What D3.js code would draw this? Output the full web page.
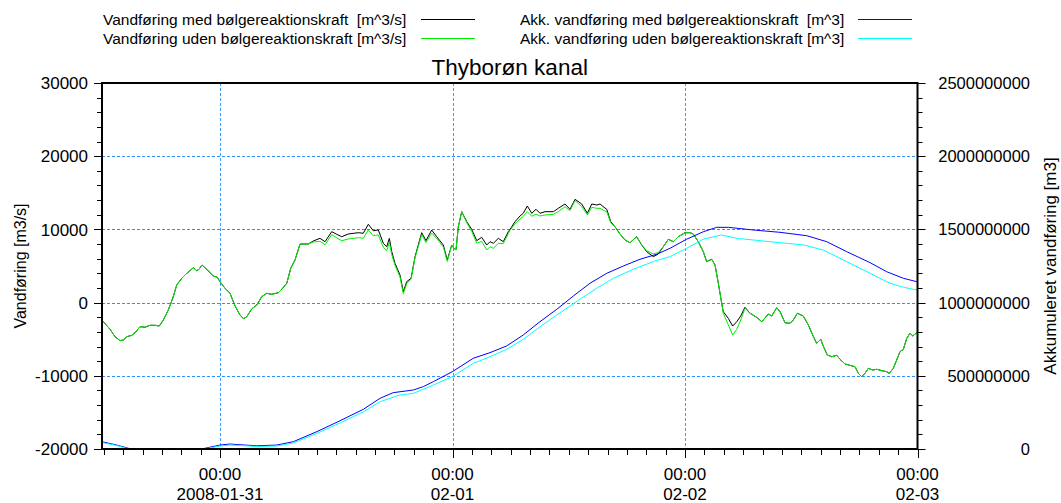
<!DOCTYPE html>
<html><head><meta charset="utf-8">
<script src="https://cdn.jsdelivr.net/npm/d3@7"></script>
<style>
html,body{margin:0;padding:0;background:#fff;}
svg{display:block;font-family:"Liberation Sans",Arial,sans-serif;}
</style></head>
<body>
<svg id="chart" width="1061" height="503"></svg>
<script>
// ---------------- DATA ----------------
const title = "Thyborøn kanal";
const seriesNames = [
  "Vandføring med bølgereaktionskraft  [m^3/s]",
  "Vandføring uden bølgereaktionskraft [m^3/s]",
  "Akk. vandføring med bølgereaktionskraft  [m^3]",
  "Akk. vandføring uden bølgereaktionskraft [m^3]"
];
const seriesColors = ["#000000", "#00f000", "#0000ff", "#00ffff"];
const leftAxisTitle = "Vandføring [m3/s]";
const rightAxisTitle = "Akkumuleret vandføring [m3]";
const xTickTop = ["00:00", "00:00", "00:00", "00:00"];
const xTickBottom = ["2008-01-31", "02-01", "02-02", "02-03"];
const xTickDays = ["2008-01-31", "2008-02-01", "2008-02-02", "2008-02-03"];
const timeStart = "2008-01-30T11:49:00";
const timeEnd = "2008-02-03T00:00:00";
const timeRef = "2008-01-31T00:00:00"; // hours below are relative to this

// flow series (hours relative to 2008-01-31 00:00)
const flowHours = [-12.2,-11.35,-10.84,-10.32,-9.98,-9.63,-9.11,-8.77,-8.26,-7.74,-7.23,-6.71,-6.27,-5.85,-5.34,-4.88,-4.47,-3.95,-3.51,-3.10,
 -2.76,-2.41,-2.17,-1.86,-1.37,-0.69,-0.28,0,0.52,1.03,1.55,2.06,2.41,2.76,3.27,3.79,4.31,4.82,5.34,6.02,
 6.37,6.89,7.30,7.74,8.26,9.11,9.63,10.32,10.84,11.53,12.05,12.56,13.24,14.28,14.79,15.31,15.82,16.34,16.86,17.21,
 17.48,17.73,18.06,18.58,18.92,19.27,19.72,20.13,20.82,21.26,21.85,22.37,23.05,23.46,23.92,24.15,24.36,24.60,24.95,25.47,
 25.98,26.50,27.01,27.53,27.87,28.21,28.73,29.24,29.76,29.94,30.45,30.97,31.31,31.72,32.18,32.62,33.03,33.55,34.41,34.92,
 35.61,36.13,36.65,37.34,37.92,38.37,38.89,39.23,39.64,39.92,40.33,40.77,41.29,41.81,42.32,43.01,43.53,44.05,44.73,45.24,
 45.76,46.28,46.79,47.31,48.00,48.52,48.86,49.37,49.89,50.24,50.75,51.10,51.44,51.79,51.95,52.47,52.92,53.34,53.75,54.19,
 54.71,55.40,55.92,56.60,56.95,57.47,57.81,58.32,58.84,59.18,59.59,60.21,60.73,61.18,61.59,62.01,62.27,62.69,63.14,63.66,
 64.00,64.52,65.03,65.55,65.89,66.24,66.58,66.92,67.38,67.79,68.31,68.82,69.09,69.50,69.85,70.19,70.54,70.89,71.23,71.51,
 71.92,72.0];
const flowMed = [-2380,-3650,-4660,-5200,-5110,-4660,-4470,-4110,-3290,-3370,-3100,-3100,-3200,-2380,-1010,590,2400,3320,3910,4360,
 4770,4360,4550,5140,4550,3630,3460,2860,1950,1270,-460,-1690,-2200,-1930,-870,-330,810,1270,1130,1350,
 1820,2640,4690,5820,8000,8000,8420,8780,8320,9690,9330,9000,9370,9550,9470,10700,9820,9920,8100,7640,
 8780,6950,5370,3770,1490,2860,3320,6270,9550,8460,9920,9000,7870,5820,7870,7420,7190,10370,12420,11050,
 10010,8460,8920,7870,8320,8100,8780,8320,9690,10010,11050,11830,12200,13200,12200,12750,12200,12420,12420,12880,
 13470,12750,14110,13470,12200,13470,13330,13470,13020,12750,11050,10370,9370,8550,8180,9000,7870,6950,6270,6640,
 7640,8650,8320,9000,9550,9550,9370,8320,6950,5590,5920,5140,2640,-100,-1240,-2150,-3200,-2610,-1830,-640,
 -1460,-2010,-2610,-1560,-1830,-700,-1240,-2750,-2830,-2380,-1460,-1830,-3060,-4430,-5560,-5010,-5930,-7160,-7390,-7200,
 -7750,-8390,-8570,-8760,-9660,-10120,-9660,-8980,-9210,-9110,-9300,-9440,-9660,-8980,-7840,-6710,-6380,-4880,-4190,-4560,
 -4110,-4050];
const flowUden = [-2380,-3650,-4660,-5200,-5110,-4660,-4470,-4110,-3290,-3370,-3100,-3100,-3200,-2380,-1010,590,2400,3320,3910,4360,
 4770,4360,4550,5140,4550,3630,3460,2860,1950,1270,-460,-1690,-2200,-1930,-870,-330,810,1270,1130,1350,
 1820,2640,4690,5820,8000,8000,8280,8370,7910,9280,8850,8450,8690,8870,8790,9920,9140,9240,7550,7090,
 8230,6540,5100,3500,1220,2590,3180,6130,9280,8190,9510,8730,7600,5620,7870,7420,7190,10370,12420,10910,
 9740,8120,8370,7190,7640,7420,8100,8050,9420,9870,10780,11420,11790,12420,11790,12070,11830,11970,12050,12430,
 13100,12570,13930,13100,11970,13020,12880,12880,12570,12430,10910,10370,9370,8550,8180,9000,7870,7090,6640,6840,
 7640,8650,8320,9000,9550,9550,9370,8320,6950,5590,5920,5140,2640,-100,-1470,-3050,-4430,-3660,-2380,-780,
 -1460,-2010,-2610,-1560,-1830,-700,-1240,-2750,-2830,-2380,-1460,-1830,-3060,-4430,-5560,-5010,-5930,-7160,-7390,-7200,
 -7750,-8390,-8570,-8760,-9660,-10120,-9660,-8980,-9210,-9110,-9300,-9440,-9660,-8980,-7840,-6710,-6380,-4880,-4190,-4560,
 -4110,-4050];

// accumulated series (m3)
const accHoursMed = [-12.2,-10.66,-9.47,-7.0,-4.5,-3.0,-1.55,0,1.03,2.06,3.79,5.85,7.57,9.98,12.39,14.79,16.52,17.55,17.89,19.96,
 20.99,22.02,23.98,26.15,27.87,29.59,31.31,33.03,34.76,36.47,38.19,39.92,41.63,43.35,45.08,46.45,48.17,49.89,51.27,52.47,
 55.05,57.81,60.56,62.63,64.69,67.10,68.82,70.54,71.92,72.0];
const accMed = [50e6,27e6,5e6,-25e6,-35e6,-20e6,5e6,27e6,34e6,29e6,22e6,27e6,50e6,118e6,193e6,271e6,346e6,376e6,385e6,403e6,
 426e6,460e6,528e6,620e6,658e6,704e6,779e6,870e6,954e6,1045e6,1132e6,1200e6,1250e6,1296e6,1330e6,1371e6,1433e6,1484e6,1514e6,1514e6,
 1496e6,1480e6,1457e6,1416e6,1348e6,1273e6,1211e6,1166e6,1143e6,1140e6];
const accHoursUden = [-12.2,-10.66,-9.47,-7.0,-4.5,-3.0,-1.55,0,1.03,2.06,3.79,5.85,7.57,9.98,12.39,14.79,16.52,18.58,19.96,22.02,
 23.98,26.15,27.87,29.59,31.31,33.03,34.76,37.16,38.89,40.60,42.67,44.73,46.45,48.17,49.89,51.79,53.34,56.77,60.21,62.27,
 64.69,67.10,69.16,70.54,71.92,72.0];
const accUden = [44e6,24e6,1e6,-28e6,-38e6,-23e6,1e6,20e6,27e6,24e6,17e6,20e6,41e6,106e6,178e6,253e6,323e6,369e6,380e6,437e6,
 494e6,585e6,630e6,681e6,749e6,835e6,915e6,1023e6,1098e6,1166e6,1228e6,1280e6,1314e6,1371e6,1433e6,1462e6,1439e6,1416e6,1394e6,1359e6,
 1280e6,1200e6,1132e6,1105e6,1086e6,1083e6];

const leftDomain = [-20000, 30000];
const leftMinorStep = 2000, leftMajorStep = 10000;
const rightDomain = [0, 2500000000];
const rightMinorStep = 100000000, rightMajorStep = 500000000;

// ---------------- CHART ----------------
const svg = d3.select("#chart");
const L = 102, R = 917.5, T = 83, B = 449;
const ref = new Date(timeRef).getTime();
const toDate = h => new Date(ref + h * 3600e3);

const x = d3.scaleTime().domain([new Date(timeStart), new Date(timeEnd)]).range([L, R]);
const yL = d3.scaleLinear().domain(leftDomain).range([B, T]);
const yR = d3.scaleLinear().domain(rightDomain).range([B, T]);

svg.append("defs").append("clipPath").attr("id", "clip")
  .append("rect").attr("x", L).attr("y", T).attr("width", R - L).attr("height", B - T);

// grid
const grid = svg.append("g");
const gridH = d3.range(leftDomain[0] + leftMajorStep, leftDomain[1], leftMajorStep);
grid.selectAll("line.h").data(gridH).join("line")
  .attr("x1", L).attr("x2", R)
  .attr("y1", d => Math.round(yL(d)) + 0.5).attr("y2", d => Math.round(yL(d)) + 0.5)
  .attr("stroke", "#2f8fff").attr("stroke-width", 1).attr("stroke-dasharray", "3,2");
const dayDates = xTickDays.map(d => new Date(d + "T00:00:00"));
grid.selectAll("line.v").data(dayDates.slice(0, -1)).join("line")
  .attr("x1", d => Math.round(x(d)) + 0.5).attr("x2", d => Math.round(x(d)) + 0.5)
  .attr("y1", T).attr("y2", B)
  .attr("stroke", "#3d9dff").attr("stroke-width", 1).attr("stroke-dasharray", "3,2");

// lines
const plot = svg.append("g").attr("clip-path", "url(#clip)");
function drawLine(hours, vals, scale, color) {
  const n = Math.min(hours.length, vals.length);
  const pts = d3.range(n).map(i => [toDate(hours[i]), vals[i]]);
  plot.append("path").datum(pts)
    .attr("fill", "none").attr("stroke", color).attr("stroke-width", 1)
    .attr("stroke-linejoin", "round")
    .attr("d", d3.line().x(d => x(d[0])).y(d => scale(d[1])));
}
drawLine(flowHours, flowMed, yL, seriesColors[0]);
drawLine(flowHours, flowUden, yL, seriesColors[1]);
drawLine(accHoursMed, accMed, yR, seriesColors[2]);
drawLine(accHoursUden, accUden, yR, seriesColors[3]);

// frame
svg.append("rect").attr("x", L).attr("y", T).attr("width", R - L).attr("height", B - T)
  .attr("fill", "none").attr("stroke", "#000").attr("stroke-width", 2);

// left axis ticks
const lt = svg.append("g");
d3.range(leftDomain[0], leftDomain[1] + 1, leftMinorStep).forEach(v => {
  const major = v % leftMajorStep === 0;
  const yy = Math.round(yL(v)) + 0.5;
  lt.append("line").attr("x1", L - (major ? 8 : 5)).attr("x2", L).attr("y1", yy).attr("y2", yy)
    .attr("stroke", "#000").attr("stroke-width", 1);
  if (major) lt.append("text").attr("x", 88).attr("y", yL(v)).attr("dy", "0.36em")
    .attr("text-anchor", "end").attr("font-size", 17).text(v);
});
// right axis ticks
const rt = svg.append("g");
d3.range(rightDomain[0], rightDomain[1] + 1, rightMinorStep).forEach(v => {
  const major = Math.round(v / rightMinorStep) % Math.round(rightMajorStep / rightMinorStep) === 0;
  const yy = Math.round(yR(v)) + 0.5;
  rt.append("line").attr("x1", R).attr("x2", R + (major ? 8 : 5)).attr("y1", yy).attr("y2", yy)
    .attr("stroke", "#000").attr("stroke-width", 1);
  if (major) rt.append("text").attr("x", 1030).attr("y", yR(v)).attr("dy", "0.36em")
    .attr("text-anchor", "end").attr("font-size", 16.5).text(v);
});
// bottom axis ticks
const bt = svg.append("g");
x.ticks(d3.timeHour.every(2)).forEach(d => {
  const major = d.getHours() === 0;
  const xx = Math.round(x(d)) + 0.5;
  bt.append("line").attr("x1", xx).attr("x2", xx).attr("y1", B).attr("y2", B + (major ? 9 : 6))
    .attr("stroke", "#000").attr("stroke-width", 1);
});
dayDates.forEach((d, i) => {
  bt.append("text").attr("x", x(d)).attr("y", 480).attr("text-anchor", "middle")
    .attr("font-size", 17).text(xTickTop[i]);
  bt.append("text").attr("x", x(d)).attr("y", 500).attr("text-anchor", "middle")
    .attr("font-size", 17).text(xTickBottom[i]);
});

// axis titles
svg.append("text").attr("transform", "translate(26,266) rotate(-90)")
  .attr("text-anchor", "middle").attr("font-size", 16).text(leftAxisTitle);
svg.append("text").attr("transform", "translate(1056,266) rotate(-90)")
  .attr("text-anchor", "middle").attr("font-size", 17).text(rightAxisTitle);

// title
svg.append("text").attr("x", (L + R) / 2).attr("y", 75).attr("text-anchor", "middle")
  .attr("font-size", 22.5).text(title);

// legend
const legPos = [
  {tx: 103, lx1: 421, lx2: 475, ty: 25, ly: 19.5},
  {tx: 103, lx1: 421, lx2: 475, ty: 44, ly: 38.5},
  {tx: 520, lx1: 858, lx2: 912, ty: 25, ly: 19.5},
  {tx: 520, lx1: 858, lx2: 912, ty: 44, ly: 38.5}
];
const leg = svg.append("g");
seriesNames.forEach((name, i) => {
  const p = legPos[i];
  leg.append("text").attr("x", p.tx).attr("y", p.ty).attr("font-size", 15.5)
    .style("white-space", "pre").text(name);
  leg.append("line").attr("x1", p.lx1).attr("x2", p.lx2).attr("y1", p.ly).attr("y2", p.ly)
    .attr("stroke", seriesColors[i]).attr("stroke-width", 1.2);
});
</script>
</body></html>
